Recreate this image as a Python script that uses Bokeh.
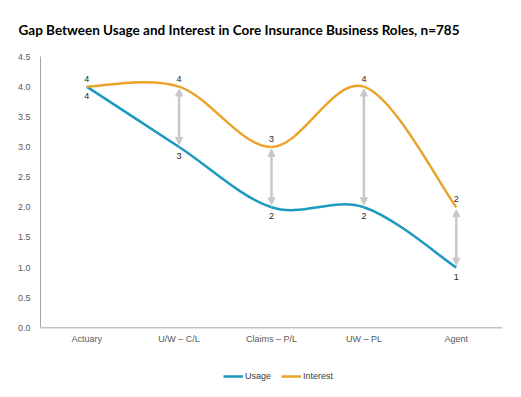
import numpy as np
from bokeh.plotting import figure
from bokeh.models import (Range1d, FixedTicker, Legend, LegendItem, Arrow, Span,
                          NormalHead, ColumnDataSource, CustomJSTickFormatter)
from bokeh.core.properties import value
from bokeh.embed import file_html
from bokeh.resources import INLINE

categories = ["Actuary", "U/W \u2013 C/L", "Claims \u2013 P/L", "UW \u2013 PL", "Agent"]
usage = [4, 3, 2, 2, 1]
interest = [4, 4, 3, 4, 2]
y_ticks = [0.0, 0.5, 1.0, 1.5, 2.0, 2.5, 3.0, 3.5, 4.0, 4.5]

USAGE_C = "#1E9AC0"
INTEREST_C = "#EBA42A"
ARROW_C = "#C8C8C8"
AXIS_C = "#A6A6A6"

xs = [float(i) for i in range(len(categories))]

# frame runs to the bottom of the canvas so the legend can sit inside it;
# y=0 lands 54px above the bottom edge (axis drawn there)
Y_TOP = 4.5
Y_BOTTOM = -Y_TOP * 54 / 273

p = figure(width=505, height=381, output_backend="svg", toolbar_location=None,
           x_range=Range1d(-0.5, len(categories) - 0.5),
           y_range=Range1d(Y_BOTTOM, Y_TOP),
           min_border_left=40, min_border_right=3, min_border_top=54,
           min_border_bottom=0)
p.title.text = "Gap Between Usage and Interest in Core Insurance Business Roles, n=785"
p.title.text_font = "Lato"
p.title.text_font_size = "13.5px"
p.title.text_font_style = "bold"
p.title.text_color = "#000000"
p.title.offset = -22
p.title.standoff = 38

p.xgrid.visible = False
p.ygrid.visible = False
p.outline_line_color = None
p.xaxis.visible = False

p.yaxis.ticker = FixedTicker(ticks=y_ticks)
p.yaxis.formatter = CustomJSTickFormatter(code="return tick.toFixed(1);")
p.yaxis.bounds = (0, Y_TOP)
p.yaxis.axis_line_color = AXIS_C
p.yaxis.major_tick_line_color = None
p.yaxis.minor_tick_line_color = None
p.yaxis.major_label_text_font = "Liberation Sans"
p.yaxis.major_label_text_font_size = "9px"
p.yaxis.major_label_text_color = "#595959"
p.yaxis.major_label_standoff = 4

# category axis line at y = 0 and category labels
p.add_layout(Span(location=0, dimension="width", line_color=AXIS_C, line_width=1))
p.text(x=xs, y=[0] * len(xs), text=categories, text_align="center",
       text_baseline="middle", y_offset=11, text_font=value("Liberation Sans"),
       text_font_size="9px", text_color="#595959")


def smooth(ys):
    ys = [float(v) for v in ys]
    n = len(ys)
    px = [xs[0]] + xs + [xs[-1]]
    py = [ys[0]] + ys + [ys[-1]]
    d = dict(x0=[], y0=[], x1=[], y1=[], cx0=[], cy0=[], cx1=[], cy1=[])
    for i in range(n - 1):
        j = i + 1
        d["x0"].append(px[j]); d["y0"].append(py[j])
        d["x1"].append(px[j + 1]); d["y1"].append(py[j + 1])
        d["cx0"].append(px[j] + (px[j + 1] - px[j - 1]) / 6)
        d["cy0"].append(py[j] + (py[j + 1] - py[j - 1]) / 6)
        d["cx1"].append(px[j + 1] - (px[j + 2] - px[j]) / 6)
        d["cy1"].append(py[j + 1] - (py[j + 2] - py[j]) / 6)
    return ColumnDataSource(d)

r_usage = p.bezier(x0="x0", y0="y0", x1="x1", y1="y1", cx0="cx0", cy0="cy0",
                   cx1="cx1", cy1="cy1", source=smooth(usage),
                   line_color=USAGE_C, line_width=2.5)
r_interest = p.bezier(x0="x0", y0="y0", x1="x1", y1="y1", cx0="cx0", cy0="cy0",
                      cx1="cx1", cy1="cy1", source=smooth(interest),
                      line_color=INTEREST_C, line_width=2.5)

# gap arrows
for x, u, it in zip(xs, usage, interest):
    if it - u > 0:
        p.add_layout(Arrow(x_start=x, y_start=u + 0.04, x_end=x, y_end=it - 0.04,
                           line_color=ARROW_C, line_width=2.5,
                           start=NormalHead(size=7, fill_color=ARROW_C, line_color=ARROW_C),
                           end=NormalHead(size=7, fill_color=ARROW_C, line_color=ARROW_C)))

# data labels
p.text(x=xs, y=interest, text=[str(v) for v in interest], text_align="center",
       text_baseline="middle", y_offset=-8, text_font=value("Liberation Sans"),
       text_font_size="9px", text_color="#262626")
p.text(x=xs, y=usage, text=[str(v) for v in usage], text_align="center",
       text_baseline="middle", y_offset=9, text_font=value("Liberation Sans"),
       text_font_size="9px", text_color="#262626")

legend = Legend(items=[LegendItem(label="Usage", renderers=[r_usage]),
                       LegendItem(label="Interest", renderers=[r_interest])],
                orientation="horizontal", location=(183, 0))
legend.border_line_color = None
legend.background_fill_alpha = 0
legend.label_text_font = "Liberation Sans"
legend.label_text_font_size = "9px"
legend.label_text_color = "#404040"
legend.glyph_width = 20
legend.glyph_height = 10
legend.label_height = 10
legend.label_standoff = 2
legend.spacing = 10
legend.padding = 0
legend.margin = 0
p.add_layout(legend)

open("out.html", "w").write(file_html(p, INLINE))
